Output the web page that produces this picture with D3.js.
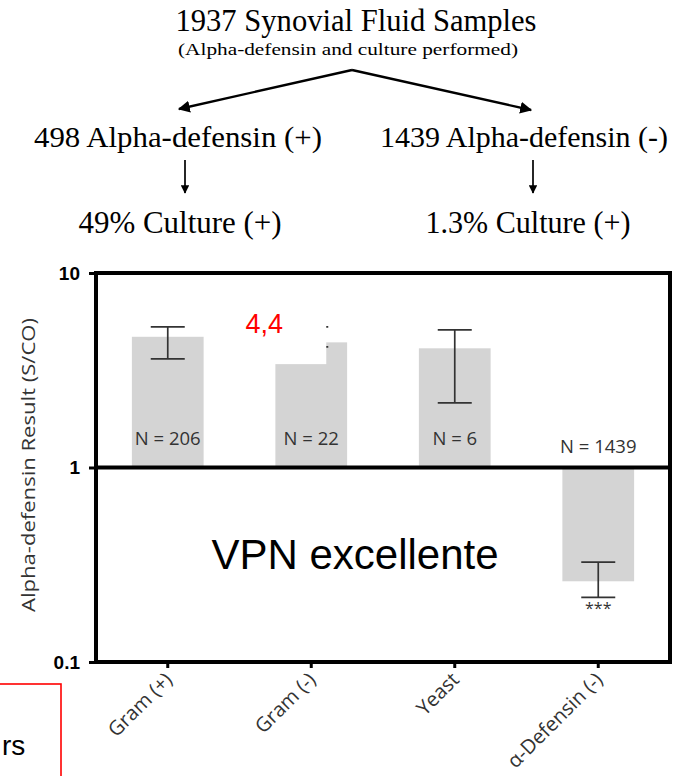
<!DOCTYPE html>
<html>
<head>
<meta charset="utf-8">
<script src="https://cdn.jsdelivr.net/npm/d3@7"></script>
<style>
  html, body { margin: 0; padding: 0; background: #fff; }
  svg { display: block; }
</style>
</head>
<body>
<script>
// Flow summary of the sample set
const flowTitle = "1937 Synovial Fluid Samples";
const flowSubtitle = "(Alpha-defensin and culture performed)";
const flowBranches = ["498 Alpha-defensin (+)", "1439 Alpha-defensin (-)"];
const flowResults = ["49% Culture (+)", "1.3% Culture (+)"];

// Bar chart: mean alpha-defensin signal (S/CO) by group, with error range
const categories = ["Gram (+)", "Gram (-)", "Yeast", "\u03b1-Defensin (-)"];
const means = [4.7, 4.4, 4.1, 0.26];
const errLow = [3.62, 4.17, 2.15, 0.215];
const errHigh = [5.28, 5.28, 5.1, 0.326];
const nLabels = ["N = 206", "N = 22", "N = 6", "N = 1439"];
const yTickValues = [0.1, 1, 10];
const yTickLabels = ["0.1", "1", "10"];
const yTitle = "Alpha-defensin Result (S/CO)";
const valueNote = "4,4";
const valueNoteIndex = 1;
const maskFloor = 3.4;
const npvNote = "VPN excellente";
const sigMark = "***";
const sigIndex = 3;
const sideNote = "rs";

const W = 683, H = 776;
const svg = d3.select("body").append("svg").attr("width", W).attr("height", H);

// ---------- flow diagram ----------
const defs = svg.append("defs");
defs.append("marker")
  .attr("id", "head").attr("viewBox", "0 0 10 10")
  .attr("refX", 9).attr("refY", 5)
  .attr("markerWidth", 5).attr("markerHeight", 5)
  .attr("orient", "auto-start-reverse")
  .append("path").attr("d", "M0,0 L10,5 L0,10 z").attr("fill", "#000");

const serif = "'Liberation Serif','Times New Roman',serif";
const flow = svg.append("g").attr("font-family", serif).attr("fill", "#000");

flow.append("text").attr("x", 356).attr("y", 31).attr("text-anchor", "middle")
  .attr("font-size", 32).attr("textLength", 361).attr("lengthAdjust", "spacingAndGlyphs")
  .text(flowTitle);
flow.append("text").attr("x", 348).attr("y", 55).attr("text-anchor", "middle")
  .attr("font-size", 17).attr("textLength", 340).attr("lengthAdjust", "spacingAndGlyphs")
  .text(flowSubtitle);

const branchX = [178, 524];
const branchW = [288, 288];
const resultX = [180, 528];
const resultW = [203, 205];
const apex = [352, 70];
const forkEnds = [[179, 109], [531, 110]];

forkEnds.forEach(e => {
  flow.append("line").attr("x1", apex[0]).attr("y1", apex[1])
    .attr("x2", e[0]).attr("y2", e[1])
    .attr("stroke", "#000").attr("stroke-width", 2.4)
    .attr("marker-end", "url(#head)");
});

flowBranches.forEach((t, i) => {
  flow.append("text").attr("x", branchX[i]).attr("y", 147).attr("text-anchor", "middle")
    .attr("font-size", 30).attr("textLength", branchW[i]).attr("lengthAdjust", "spacingAndGlyphs")
    .text(t);
  flow.append("line").attr("x1", resultX[i] + 5).attr("y1", 160)
    .attr("x2", resultX[i] + 5).attr("y2", 193)
    .attr("stroke", "#000").attr("stroke-width", 1.7)
    .attr("marker-end", "url(#head)");
  flow.append("text").attr("x", resultX[i]).attr("y", 233).attr("text-anchor", "middle")
    .attr("font-size", 31).attr("textLength", resultW[i]).attr("lengthAdjust", "spacingAndGlyphs")
    .text(flowResults[i]);
});

// ---------- bar chart ----------
const plot = { left: 96, right: 670, top: 273, bottom: 662 };
const sans = "'Open Sans','Noto Sans',sans-serif";
const arial = "'Liberation Sans',Arial,sans-serif";

const x = d3.scaleBand().domain(categories)
  .range([plot.left, plot.right]).paddingInner(0.5).paddingOuter(0.25);
const y = d3.scaleLog().domain([0.1, 10]).range([plot.bottom, plot.top]);

const rows = categories.map((c, i) => ({
  c, v: means[i], lo: errLow[i], hi: errHigh[i], n: nLabels[i], i
}));
const cx = d => x(d.c) + x.bandwidth() / 2;

const chart = svg.append("g");

// bars grow from the 1.0 baseline (up for >1, down for <1)
chart.selectAll("rect.bar").data(rows).join("rect")
  .attr("class", "bar")
  .attr("x", d => x(d.c))
  .attr("width", x.bandwidth())
  .attr("y", d => Math.min(y(d.v), y(1)))
  .attr("height", d => Math.abs(y(d.v) - y(1)))
  .attr("fill", "#d4d4d4");

// error bars
const capHalf = 17;
const eb = chart.selectAll("g.err").data(rows).join("g").attr("class", "err")
  .attr("stroke", "#333").attr("stroke-width", 1.7);
eb.append("line")
  .attr("x1", cx).attr("x2", cx)
  .attr("y1", d => y(d.hi)).attr("y2", d => y(d.lo));
eb.append("line")
  .attr("x1", d => cx(d) - capHalf).attr("x2", d => cx(d) + capHalf)
  .attr("y1", d => y(d.hi)).attr("y2", d => y(d.hi));
eb.append("line")
  .attr("x1", d => cx(d) - capHalf).attr("x2", d => cx(d) + capHalf)
  .attr("y1", d => y(d.lo)).attr("y2", d => y(d.lo));

// sample-size labels
chart.selectAll("text.n").data(rows).join("text")
  .attr("class", "n")
  .attr("x", cx)
  .attr("y", d => d.v >= 1 ? y(1) - 23 : y(1) - 15)
  .attr("text-anchor", "middle")
  .attr("font-family", sans).attr("font-size", 18.5).attr("fill", "#333")
  .text(d => d.n);

// significance marker
chart.append("text")
  .attr("x", cx(rows[sigIndex]))
  .attr("y", y(errLow[sigIndex]) + 17)
  .attr("text-anchor", "middle")
  .attr("font-family", sans).attr("font-size", 16).attr("fill", "#333")
  .text(sigMark);

// value callout over the Gram (-) bar
const noteX = x(categories[valueNoteIndex]);
const maskTop = y(errHigh[valueNoteIndex]) - 30;
chart.append("rect")
  .attr("x", noteX - 46)
  .attr("y", maskTop)
  .attr("width", 46 + x.bandwidth() / 2 + 15)
  .attr("height", y(maskFloor) - maskTop)
  .attr("fill", "#fff");
chart.append("text")
  .attr("x", noteX - 30).attr("y", 333)
  .attr("font-family", arial).attr("font-size", 27)
  .attr("fill", "#ff0000")
  .text(valueNote);

// frame and 1.0 reference line
chart.append("rect")
  .attr("x", plot.left).attr("y", plot.top)
  .attr("width", plot.right - plot.left).attr("height", plot.bottom - plot.top)
  .attr("fill", "none").attr("stroke", "#000").attr("stroke-width", 4);
chart.append("line")
  .attr("x1", plot.left).attr("x2", plot.right)
  .attr("y1", y(1)).attr("y2", y(1))
  .attr("stroke", "#000").attr("stroke-width", 4);

// y axis
const yAxis = svg.append("g").attr("transform", `translate(${plot.left - 2},0)`)
  .call(d3.axisLeft(y).tickValues(yTickValues)
    .tickFormat((d, i) => yTickLabels[i]).tickSize(5).tickPadding(9));
yAxis.select(".domain").remove();
yAxis.selectAll(".tick line").attr("stroke", "#000").attr("stroke-width", 3);
yAxis.selectAll(".tick text")
  .attr("font-family", arial)
  .attr("font-weight", "bold").attr("font-size", 19).attr("fill", "#000");

// x axis
const xAxis = svg.append("g").attr("transform", `translate(0,${plot.bottom + 2})`)
  .call(d3.axisBottom(x).tickSize(4));
xAxis.select(".domain").remove();
xAxis.selectAll(".tick line").attr("stroke", "#000").attr("stroke-width", 3);
xAxis.selectAll(".tick text")
  .attr("font-family", sans).attr("font-size", 20).attr("fill", "#333")
  .attr("text-anchor", "end")
  .attr("x", -8).attr("y", 9).attr("dy", "0.35em")
  .attr("transform", "rotate(-45)");

// y title
svg.append("text")
  .attr("transform", `translate(35,465) rotate(-90)`)
  .attr("text-anchor", "middle")
  .attr("font-family", sans).attr("font-size", 19).attr("fill", "#333")
  .attr("textLength", 294).attr("lengthAdjust", "spacingAndGlyphs")
  .text(yTitle);

// interpretation note
svg.append("text")
  .attr("x", 355)
  .attr("y", 569)
  .attr("text-anchor", "middle")
  .attr("font-family", arial).attr("font-size", 42)
  .attr("fill", "#000")
  .text(npvNote);

// boxed side note at the lower-left corner
svg.append("rect")
  .attr("x", -4).attr("y", 684).attr("width", 65).attr("height", 100)
  .attr("fill", "#fff").attr("stroke", "#ff0000").attr("stroke-width", 1.6);
svg.append("text")
  .attr("x", 2).attr("y", 755)
  .attr("font-family", arial).attr("font-size", 28)
  .attr("fill", "#000")
  .text(sideNote);
</script>
</body>
</html>
